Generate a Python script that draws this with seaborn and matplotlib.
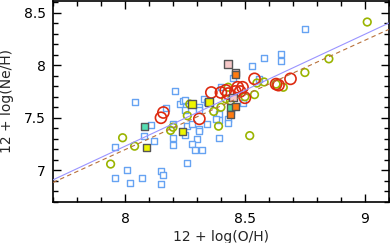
import matplotlib
matplotlib.use("Agg")
import matplotlib.pyplot as plt
import seaborn as sns
from matplotlib.ticker import MultipleLocator

# open blue squares
blue_x = [7.96, 7.96, 8.01, 8.02, 8.04, 8.07, 8.08, 8.11, 8.12, 8.15, 8.16, 8.15,
          8.17, 8.20, 8.20, 8.20, 8.21, 8.23, 8.24, 8.25, 8.25, 8.26, 8.25, 8.26,
          8.28, 8.30, 8.28, 8.31, 8.31, 8.29, 8.32, 8.34, 8.31, 8.31, 8.33, 8.34,
          8.39, 8.39, 8.38, 8.43, 8.43, 8.39, 8.49, 8.45, 8.53, 8.58, 8.65, 8.65,
          8.56, 8.75, 8.44, 8.40]
blue_y = [6.93, 7.22, 7.00, 6.88, 7.65, 6.93, 7.33, 7.43, 7.28, 6.99, 6.96, 6.87,
          7.59, 7.44, 7.31, 7.24, 7.75, 7.63, 7.66, 7.67, 7.57, 7.42, 7.34, 7.07,
          7.44, 7.30, 7.25, 7.39, 7.37, 7.19, 7.19, 7.44, 7.60, 7.57, 7.68, 7.65,
          7.54, 7.48, 7.49, 7.49, 7.45, 7.31, 7.64, 7.88, 7.99, 8.07, 8.11, 8.04,
          7.87, 8.34, 7.56, 7.79]

# open red circles
red_x = [8.15, 8.16, 8.31, 8.36, 8.40, 8.42, 8.43, 8.47, 8.49, 8.48, 8.50, 8.46,
         8.54, 8.63, 8.64, 8.69]
red_y = [7.50, 7.55, 7.49, 7.74, 7.74, 7.76, 7.73, 7.79, 7.79, 7.75, 7.69, 7.75,
         7.87, 7.82, 7.81, 7.87]

# open olive circles
olive_x = [7.94, 7.99, 8.04, 8.19, 8.20, 8.26, 8.27, 8.37, 8.39, 8.40, 8.42, 8.43,
           8.50, 8.52, 8.54, 8.55, 8.58, 8.63, 8.66, 8.75, 8.85, 9.01, 8.44]
olive_y = [7.06, 7.31, 7.23, 7.38, 7.41, 7.52, 7.63, 7.56, 7.42, 7.60, 7.68, 7.79,
           7.70, 7.33, 7.72, 7.83, 7.84, 7.82, 7.79, 7.93, 8.06, 8.41, 7.66]

# filled squares
fill_x = [8.08, 8.09, 8.24, 8.28, 8.35, 8.43, 8.46, 8.46, 8.45, 8.44, 8.46, 8.44]
fill_y = [7.42, 7.22, 7.37, 7.63, 7.65, 8.01, 7.93, 7.91, 7.69, 7.60, 7.61, 7.53]
fill_kind = ["teal", "yellow", "yellow", "yellow", "yellow", "pink", "pink",
             "orange", "pink", "green", "orange", "orange"]
fill_colors = {"teal": "#55e0b4", "yellow": "#eef500", "pink": "#f6c8c8",
               "orange": "#ff7a10", "green": "#55d890"}

# fit lines
fit_x = [7.7, 9.1]
fit_solid = [6.91, 8.40]
fit_dashed = [6.885, 8.34]

sns.set_style("ticks")
plt.rcParams["font.family"] = ["DejaVu Sans"]
plt.rcParams["font.size"] = 10

fig = plt.figure(figsize=(3.9, 2.43), dpi=100)
ax = fig.add_axes([0.136, 0.169, 0.861, 0.827])

sns.scatterplot(x=blue_x, y=blue_y, marker="s", s=13, facecolor="white",
                edgecolor="#66a3f2", linewidth=1.0, ax=ax, zorder=2)
sns.scatterplot(x=olive_x, y=olive_y, marker="o", s=30, facecolor="none",
                edgecolor="#9ab400", linewidth=1.2, ax=ax, zorder=3)
sns.scatterplot(x=red_x, y=red_y, marker="o", s=64, facecolor="none",
                edgecolor="#dd2a10", linewidth=1.2, ax=ax, zorder=3)
sns.scatterplot(x=fill_x, y=fill_y, hue=fill_kind, palette=fill_colors,
                marker="s", s=28, edgecolor="#555555", linewidth=1.0,
                legend=False, ax=ax, zorder=4)

sns.lineplot(x=fit_x, y=fit_solid, color="#9a94ff", lw=0.8, ax=ax, zorder=5)
sns.lineplot(x=fit_x, y=fit_dashed, color="#b8703a", lw=0.8,
             linestyle=(0, (4, 3)), ax=ax, zorder=5)

ax.set_xlim(7.7, 9.1)
ax.set_ylim(6.7, 8.61)
ax.set_xticks([8, 8.5, 9])
ax.set_xticklabels(["8", "8.5", "9"])
ax.set_yticks([7, 7.5, 8, 8.5])
ax.set_yticklabels(["7", "7.5", "8", "8.5"])
ax.xaxis.set_minor_locator(MultipleLocator(0.1))
ax.yaxis.set_minor_locator(MultipleLocator(0.1))
ax.tick_params(which="both", direction="in", top=True, right=True, width=1,
               colors="black", labelsize=10)
ax.tick_params(which="major", length=6)
ax.tick_params(which="minor", length=3.5)
ax.tick_params(axis="x", pad=7)
ax.tick_params(axis="y", pad=5)
for sp in ax.spines.values():
    sp.set_linewidth(1.2)
    sp.set_color("black")

ax.set_xlabel("12 + log(O/H)", fontsize=10, labelpad=3)
ax.set_ylabel("12 + log(Ne/H)", fontsize=10, labelpad=7)

fig.savefig("out.png", dpi=100)
